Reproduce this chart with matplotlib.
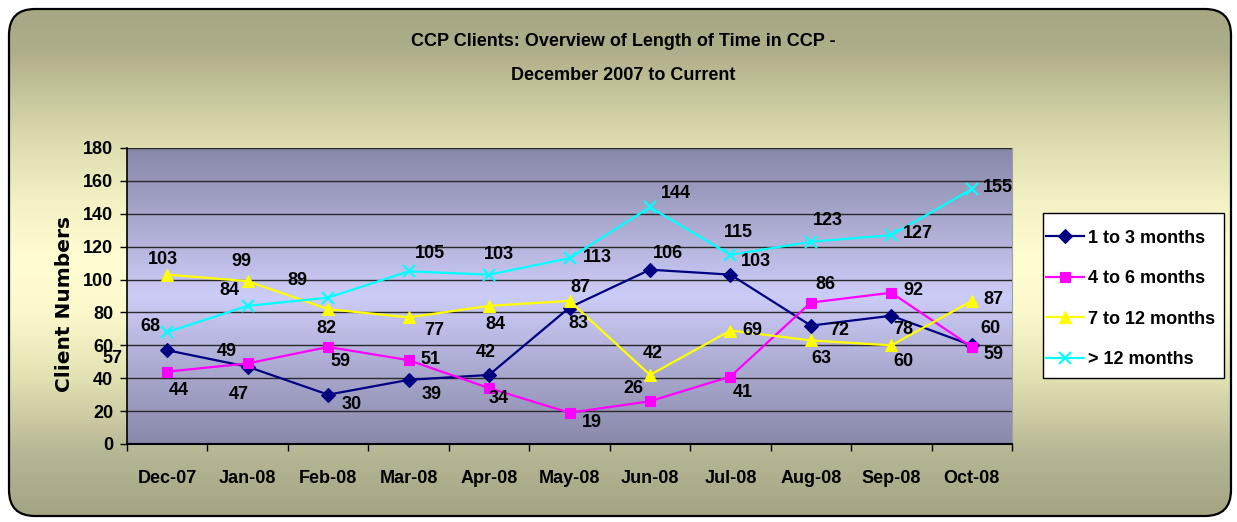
import numpy as np
import matplotlib
matplotlib.use('Agg')
import matplotlib.pyplot as plt
from matplotlib.patches import FancyBboxPatch, Rectangle
from matplotlib.colors import LinearSegmentedColormap

plt.rcParams['font.family'] = ['Liberation Sans', 'DejaVu Sans']
plt.rcParams['font.weight'] = 'bold'

# data
months = ['Dec-07', 'Jan-08', 'Feb-08', 'Mar-08', 'Apr-08', 'May-08',
          'Jun-08', 'Jul-08', 'Aug-08', 'Sep-08', 'Oct-08']
one_to_three = [57, 47, 30, 39, 42, 83, 106, 103, 72, 78, 60]
four_to_six = [44, 49, 59, 51, 34, 19, 26, 41, 86, 92, 59]
seven_to_twelve = [103, 99, 82, 77, 84, 87, 42, 69, 63, 60, 87]
over_twelve = [68, 84, 89, 105, 103, 113, 144, 115, 123, 127, 155]
series_names = ['1 to 3 months', '4 to 6 months', '7 to 12 months', '> 12 months']
y_ticks = list(range(0, 181, 20))

# styles
colors = ['#000080', '#ff00ff', '#ffff00', '#00ffff']
markers = ['D', 's', '^', 'x']
msizes = [7.2, 7, 8.5, 9]
# label offsets in pixels (dx right, dy down) for each point
label_offsets = [
    [(-55, 10), (-9, 30), (24, 12), (23, 17), (-3, -20), (9, 18), (18, -14), (26, -11), (28, 7), (12, 16), (19, -15)],
    [(12, 21), (-21, -10), (12, 17), (22, 1), (10, 12), (22, 12), (-17, -11), (12, 18), (15, -16), (22, 0), (22, 10)],
    [(-4, -13), (-6, -18), (-2, 21), (26, 15), (6, 21), (11, -11), (3, -19), (22, 2), (11, 20), (12, 18), (22, 1)],
    [(-17, -4), (-18, -13), (-31, -15), (21, -16), (10, -18), (28, 1), (26, -12), (8, -20), (17, -19), (27, 0), (26, 0)],
]

W, H = 1237, 522
fig = plt.figure(figsize=(W / 100, H / 100), dpi=100)
fig.patch.set_facecolor('white')

# background panel with rounded corners
bg = fig.add_axes([0, 0, 1, 1], zorder=-10)
bg.set_xlim(0, W)
bg.set_ylim(H, 0)
bg.axis('off')
bg_cmap = LinearSegmentedColormap.from_list('bg', [
    (0, '#a8a784'), (0.08, '#afae8a'), (0.24, '#d8d8aa'), (0.38, '#f4f2c4'),
    (0.5, '#fffdd2'), (0.6, '#fbf9cc'), (0.73, '#e2e1b2'), (0.87, '#b9b896'),
    (1, '#a4a382')])
panel = FancyBboxPatch((9, 9), 1222, 507, boxstyle='round,pad=0,rounding_size=26',
                       facecolor='none', edgecolor='black', lw=1.6, zorder=2)
bg.add_patch(panel)
im = bg.imshow(np.linspace(0, 1, 256).reshape(-1, 1), cmap=bg_cmap,
               extent=(9, 1231, 516, 9), aspect='auto', zorder=1)
im.set_clip_path(panel)
# legend frame
bg.add_patch(Rectangle((1043, 213), 181, 165, facecolor='white', edgecolor='black',
                       lw=1, zorder=3))

# plot area
ax = fig.add_axes([127 / W, (H - 444) / H, (1012 - 127) / W, (444 - 148) / H])
ax.set_facecolor('none')
plot_cmap = LinearSegmentedColormap.from_list('pa', [
    (0, '#8888a9'), (0.5, '#ccccf8'), (1, '#8888a9')])
ax.imshow(np.linspace(0, 1, 256).reshape(-1, 1), cmap=plot_cmap,
          extent=(0, 1, 0, 1), transform=ax.transAxes, aspect='auto', zorder=0)

x = np.arange(len(months))
all_series = [one_to_three, four_to_six, seven_to_twelve, over_twelve]
handles = []
for vals, name, c, m, ms, offs in zip(all_series, series_names, colors, markers, msizes, label_offsets):
    line, = ax.plot(x, vals, color=c, lw=1.6, marker=m, markersize=ms,
                    markeredgewidth=1.5 if m == 'x' else 0.8, markeredgecolor=c,
                    markerfacecolor=c, zorder=3, label=name)
    handles.append(line)
    for xi, v, (dx, dy) in zip(x, vals, offs):
        ax.annotate(str(v), (xi, v), xytext=(dx, -dy + 2), textcoords='offset pixels',
                    ha='center', va='center', fontsize=13, fontweight='bold',
                    color='black', zorder=5)

ax.set_xlim(-0.5, len(months) - 0.5)
ax.set_ylim(0, 180)
ax.set_yticks(y_ticks)
ax.yaxis.grid(True, color='#2a2a2a', lw=1)
ax.set_axisbelow(True)
ax.set_xticks(np.arange(-0.5, len(months), 1))
ax.set_xticklabels([])
ax.set_xticks(x, minor=True)
ax.set_xticklabels(months, minor=True)
ax.tick_params(axis='x', which='major', length=5, width=1, direction='out')
ax.tick_params(axis='x', which='minor', length=0, pad=19, labelsize=13)
ax.tick_params(axis='y', length=5, width=1, direction='out', pad=5, labelsize=13)
ax.spines['top'].set_visible(False)
ax.spines['right'].set_color('#a0a0a0')
ax.spines['left'].set_linewidth(1.2)
ax.spines['bottom'].set_linewidth(1.5)

# titles
fig.text(623 / W, 1 - 42 / H, 'CCP Clients: Overview of Length of Time in CCP -',
         ha='center', va='center', fontsize=13, fontweight='bold')
fig.text(623 / W, 1 - 75 / H, 'December 2007 to Current',
         ha='center', va='center', fontsize=13, fontweight='bold')
fig.text(64 / W, 1 - 304 / H, 'Client Numbers', rotation=90, ha='center', va='center',
         family='DejaVu Sans', fontsize=14.5, fontweight='bold')

leg = fig.legend(handles=handles, loc='center left', bbox_to_anchor=(1046 / W, 1 - 299 / H),
                 frameon=False, prop={'size': 13, 'weight': 'bold'}, handlelength=2.1,
                 handletextpad=0.25, labelspacing=1.3, borderpad=0.0, borderaxespad=0)
leg.set_zorder(20)

fig.savefig('out.png', dpi=100)
